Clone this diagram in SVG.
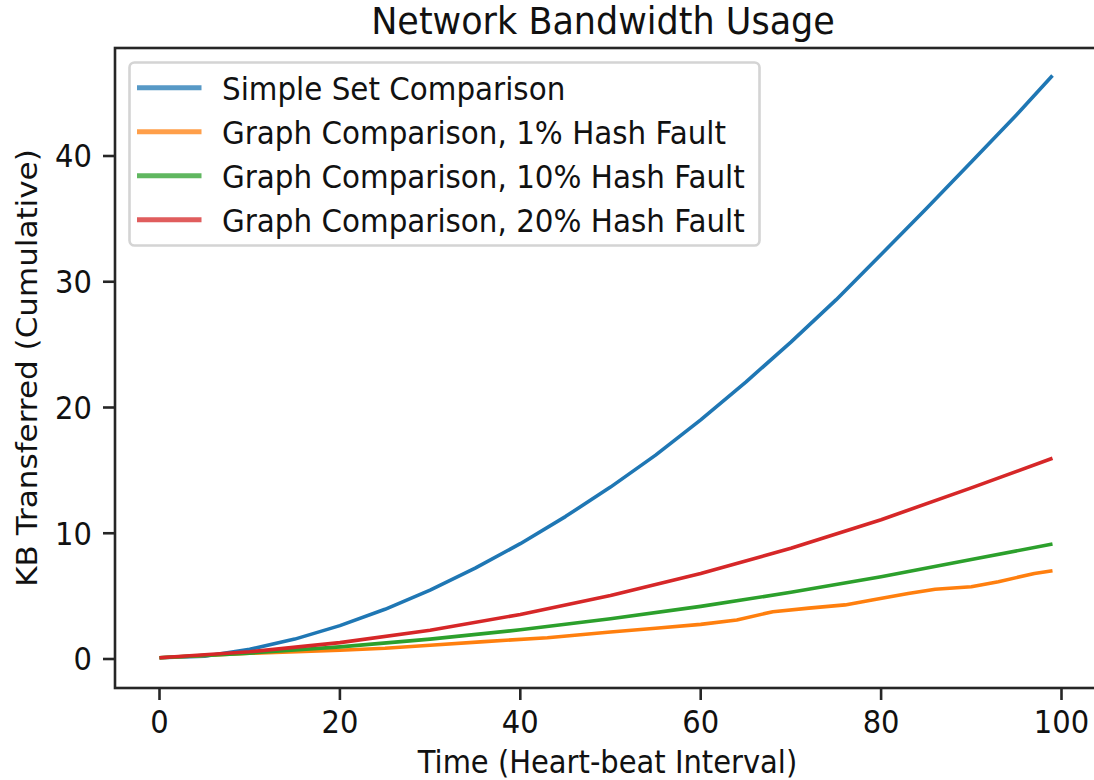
<svg xmlns="http://www.w3.org/2000/svg" width="1094" height="780" viewBox="0 0 1094 780">
<style>
.t{font-family:"DejaVu Sans","Liberation Sans",sans-serif;font-size:29px;fill:#111}
.lg{font-size:29.4px}
.xt{text-anchor:middle}
.yt{text-anchor:end}
.spine{fill:none;stroke:#262626;stroke-width:2.6}
.tick{stroke:#262626;stroke-width:2.6}
.ln{fill:none;stroke-width:3.6;stroke-linejoin:round;stroke-linecap:butt}
.hd{stroke-width:5;opacity:0.75}
</style>
<rect width="1094" height="780" fill="#fff"/>
<g id="title"><text class="t" transform="translate(603,34) scale(1,1.05)" style="font-size:35px;text-anchor:middle">Network Bandwidth Usage</text></g>
<g id="series">
<polyline id="simple" class="ln" stroke="#1f77b4" points="159.5,657.7 204.6,656.2 249.7,649.3 294.8,639.1 339.9,625.6 385.0,609.3 430.1,590.1 475.2,568.2 520.3,543.7 565.4,516.6 610.5,487.1 655.6,455.1 700.7,419.8 745.8,382.1 790.9,342.1 836.0,299.9 881.1,254.5 926.2,208.7 971.3,162.0 1016.4,114.9 1052.5,75.5"/>
<polyline id="g1" class="ln" stroke="#ff7f0e" points="159.5,657.7 249.7,653.3 339.9,650.2 385.0,648.3 430.1,645.2 484.2,641.6 547.4,637.7 610.5,632.0 655.6,628.2 700.7,624.4 736.8,620.0 772.9,611.7 808.9,608.1 845.0,604.9 872.1,599.9 908.2,593.6 935.2,589.2 971.3,586.7 998.4,581.7 1034.4,573.5 1052.5,570.7"/>
<polyline id="g10" class="ln" stroke="#2ca02c" points="159.5,657.7 249.7,653.1 339.9,646.9 430.1,639.1 520.3,629.8 610.5,618.8 700.7,606.4 790.9,592.3 881.1,576.7 971.3,559.5 1052.5,544.0"/>
<polyline id="g20" class="ln" stroke="#d62728" points="159.5,657.7 249.7,651.8 339.9,642.6 430.1,630.2 520.3,614.5 610.5,595.6 700.7,573.6 790.9,548.2 881.1,519.7 971.3,487.9 1052.5,458.3"/>
</g>
<g id="axes">
<rect class="spine" x="115" y="48" width="982" height="640"/>
<g id="xticks">
<line class="tick" x1="159.5" y1="688" x2="159.5" y2="700"/>
<line class="tick" x1="339.9" y1="688" x2="339.9" y2="700"/>
<line class="tick" x1="520.3" y1="688" x2="520.3" y2="700"/>
<line class="tick" x1="700.7" y1="688" x2="700.7" y2="700"/>
<line class="tick" x1="881.1" y1="688" x2="881.1" y2="700"/>
<line class="tick" x1="1061.5" y1="688" x2="1061.5" y2="700"/>
<text class="t xt" transform="translate(159.5,733) scale(1,1.07)">0</text>
<text class="t xt" transform="translate(339.9,733) scale(1,1.07)">20</text>
<text class="t xt" transform="translate(520.3,733) scale(1,1.07)">40</text>
<text class="t xt" transform="translate(700.7,733) scale(1,1.07)">60</text>
<text class="t xt" transform="translate(881.1,733) scale(1,1.07)">80</text>
<text class="t xt" transform="translate(1061.5,733) scale(1,1.07)">100</text>
</g>
<g id="yticks">
<line class="tick" x1="103" y1="659" x2="115" y2="659"/>
<line class="tick" x1="103" y1="533.25" x2="115" y2="533.25"/>
<line class="tick" x1="103" y1="407.5" x2="115" y2="407.5"/>
<line class="tick" x1="103" y1="281.75" x2="115" y2="281.75"/>
<line class="tick" x1="103" y1="156" x2="115" y2="156"/>
<text class="t yt" transform="translate(92,670.3) scale(1,1.07)">0</text>
<text class="t yt" transform="translate(92,544.5) scale(1,1.07)">10</text>
<text class="t yt" transform="translate(92,418.8) scale(1,1.07)">20</text>
<text class="t yt" transform="translate(92,293) scale(1,1.07)">30</text>
<text class="t yt" transform="translate(92,167.3) scale(1,1.07)">40</text>
</g>
<text class="t xt" transform="translate(607.5,773) scale(1,1.07)">Time (Heart-beat Interval)</text>
<text class="t xt" transform="translate(37,368) rotate(-90) scale(1.07,1)">KB Transferred (Cumulative)</text>
</g>
<g id="legend">
<rect x="129.5" y="62.5" width="630" height="183" rx="5" fill="#fff" fill-opacity="0.8" stroke="#d4d4d4" stroke-width="2.6"/>
<line class="hd" x1="137" y1="87.7" x2="201.5" y2="87.7" stroke="#1f77b4"/>
<line class="hd" x1="137" y1="131.7" x2="201.5" y2="131.7" stroke="#ff7f0e"/>
<line class="hd" x1="137" y1="175.7" x2="201.5" y2="175.7" stroke="#2ca02c"/>
<line class="hd" x1="137" y1="219.7" x2="201.5" y2="219.7" stroke="#d62728"/>
<text class="t lg" transform="translate(222,99.7) scale(1,1.07)">Simple Set Comparison</text>
<text class="t lg" transform="translate(222,143.7) scale(1,1.07)">Graph Comparison, 1% Hash Fault</text>
<text class="t lg" transform="translate(222,187.7) scale(1,1.07)">Graph Comparison, 10% Hash Fault</text>
<text class="t lg" transform="translate(222,231.7) scale(1,1.07)">Graph Comparison, 20% Hash Fault</text>
</g>
</svg>
